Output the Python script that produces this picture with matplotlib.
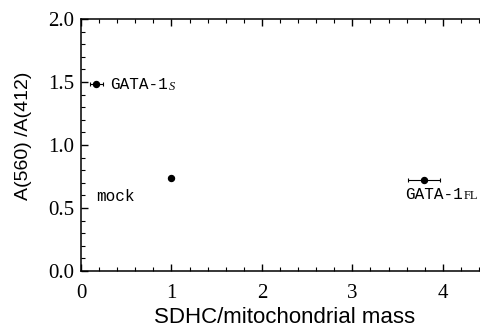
import matplotlib
matplotlib.use("Agg")
import matplotlib.pyplot as plt
from matplotlib.ticker import MultipleLocator

main_labels = ["GATA-1", "mock", "GATA-1"]
sub_labels = ["S", "", "FL"]
sub_styles = ["italic", "normal", "normal"]
x_vals = [0.171, 1.0, 3.79]
y_vals = [1.484, 0.738, 0.722]
x_err = [0.07, 0.0, 0.177]
label_x = [0.32, 0.166, 3.58]
label_y = [1.445, 0.555, 0.575]
xticks = [0, 1, 2, 3, 4]
yticks = [0.0, 0.5, 1.0, 1.5, 2.0]

fig = plt.figure(figsize=(4.8, 3.28), dpi=100)
ax = fig.add_axes([81/480, 57/328, 407/480, 252/328])

ax.errorbar(x_vals, y_vals, xerr=x_err, fmt='o', color='black', ms=4.3,
            elinewidth=0.8, capsize=1.5, capthick=0.8)

mono = dict(family=['Liberation Mono', 'DejaVu Sans Mono'], fontsize=11.5, color='black')
for lx, ly, m, s, st in zip(label_x, label_y, main_labels, sub_labels, sub_styles):
    t = ax.text(lx, ly, m, va='baseline', ha='left', **mono)
    if s:
        ax.annotate(s, xy=(1, 0), xycoords=t, xytext=(0.5, -0.5), textcoords='offset points',
                    va='bottom', ha='left', fontsize=9, style=st,
                    family=['Liberation Serif', 'DejaVu Serif'])

ax.set_xlim(0, 4.5)
ax.set_ylim(0, 2.0)
ax.set_xticks(xticks)
ax.set_xticklabels([str(t) for t in xticks])
ax.set_yticks(yticks)
ax.set_yticklabels([f"{t:.1f}" for t in yticks])
ax.xaxis.set_minor_locator(MultipleLocator(0.2))
ax.yaxis.set_minor_locator(MultipleLocator(0.1))
ax.tick_params(which='both', direction='in', top=True, right=False)
ax.tick_params(which='major', length=5, width=1)
ax.tick_params(which='minor', length=3, width=0.8)
ax.spines['right'].set_visible(False)
for s in ['left', 'bottom', 'top']:
    ax.spines[s].set_linewidth(1.1)
for lab in ax.get_xticklabels() + ax.get_yticklabels():
    lab.set_family(['Liberation Serif', 'DejaVu Serif'])
    lab.set_fontsize(15)
ax.tick_params(axis='y', pad=5)
ax.tick_params(axis='x', pad=9)

ax.set_xlabel("SDHC/mitochondrial mass", family=['Liberation Sans', 'DejaVu Sans'], fontsize=16, labelpad=3)
ax.set_ylabel("A(560) /A(412)", family=['Liberation Sans', 'DejaVu Sans'], fontsize=14)
ax.yaxis.set_label_coords(-0.12, 0.535)

fig.savefig("out.png", dpi=100)
